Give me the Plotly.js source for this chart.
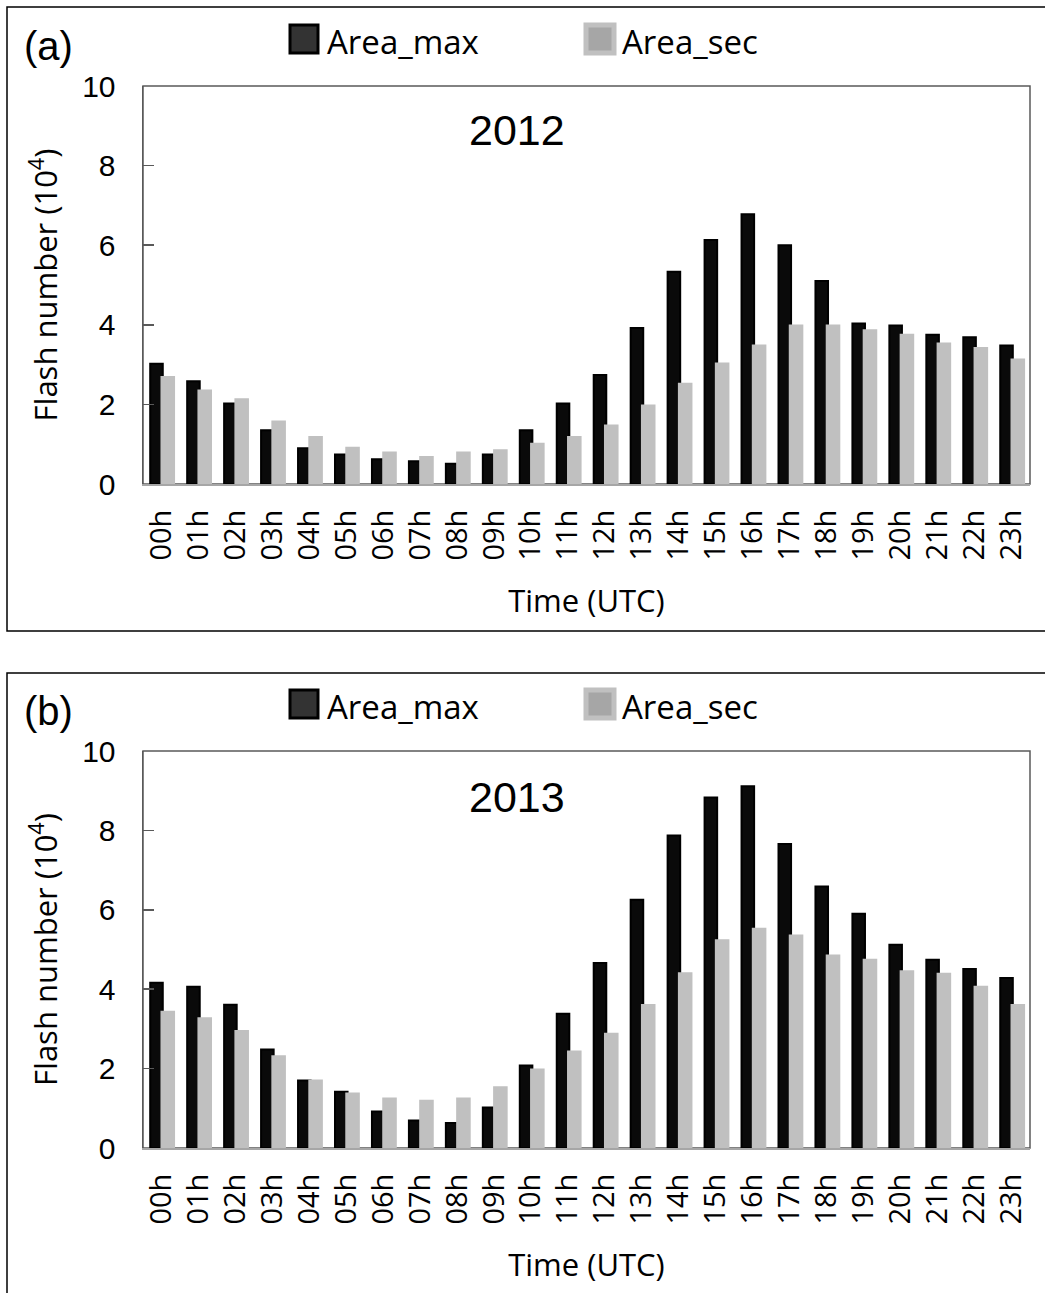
<!DOCTYPE html>
<html>
<head>
<meta charset="utf-8">
<script src="https://cdn.plot.ly/plotly-3.0.1.min.js"></script>
<style>html,body{margin:0;padding:0;background:#fff;}#chart{width:1045px;height:1293px;}</style>
</head>
<body>
<div id="chart"></div>
<script>
// ---- data ----
var hours = ['00h','01h','02h','03h','04h','05h','06h','07h','08h','09h','10h','11h',
             '12h','13h','14h','15h','16h','17h','18h','19h','20h','21h','22h','23h'];
var seriesNames = ['Area_max', 'Area_sec'];
var yearLabels = ['2012', '2013'];
var panelLabels = ['(a)', '(b)'];
var max2012 = [3.02,2.58,2.02,1.35,0.90,0.74,0.62,0.57,0.51,0.74,1.35,2.02,2.74,3.92,5.33,6.13,6.78,6.00,5.10,4.03,3.98,3.75,3.69,3.48];
var sec2012 = [2.69,2.35,2.13,1.57,1.18,0.91,0.79,0.68,0.79,0.85,1.01,1.18,1.47,1.97,2.52,3.03,3.48,3.98,3.98,3.86,3.75,3.53,3.42,3.13];
var max2013 = [4.16,4.06,3.61,2.48,1.70,1.42,0.92,0.69,0.63,1.02,2.08,3.38,4.66,6.25,7.87,8.83,9.11,7.66,6.59,5.90,5.12,4.74,4.51,4.28];
var sec2013 = [3.43,3.27,2.95,2.31,1.70,1.37,1.25,1.19,1.25,1.53,1.98,2.43,2.88,3.60,4.40,5.23,5.52,5.35,4.85,4.74,4.45,4.39,4.06,3.60];
var yTickVals = [0,2,4,6,8,10];

// ---- layout helpers ----
var W = 1045, H = 1293;
function px(x){ return x / W; }
function py(y){ return 1 - y / H; }

var BW = 0.34;
function barTrace(x, y, name, xa, ya, fill, line, off){
  return {type:'bar', x:x, y:y, name:name, xaxis:xa, yaxis:ya,
    width:BW, offset:off,
    marker:{color:fill, line:{color:line, width:2}},
    showlegend:false, hoverinfo:'x+y'};
}

var data = [
  barTrace(hours, max2012, seriesNames[0], 'x', 'y', '#0a0a0a', '#000000', -0.305),
  barTrace(hours, sec2012, seriesNames[1], 'x', 'y', '#c0c0c0', '#c0c0c0', 0.0),
  barTrace(hours, max2013, seriesNames[0], 'x2', 'y2', '#0a0a0a', '#000000', -0.305),
  barTrace(hours, sec2013, seriesNames[1], 'x2', 'y2', '#c0c0c0', '#c0c0c0', 0.0)
];

var tickFontX = {family:'Open Sans, sans-serif', size:29, color:'#000'};
var tickFontY = {family:'Liberation Sans, Arial, sans-serif', size:30, color:'#000'};
var titleFont = {family:'Open Sans, sans-serif', size:31, color:'#000'};

function xaxis(anchor){
  return {domain:[px(143), px(1030)], anchor:anchor, type:'category',
    showline:true, linecolor:'#a6a6a6', linewidth:2, ticks:'',
    tickangle:-90, tickfont:tickFontX, ticklabelstandoff:12,
    showgrid:false, zeroline:false, fixedrange:true,
    title:{text:'Time (UTC)', font:titleFont, standoff:31}};
}
function yaxis(dom, anchor){
  return {domain:dom, anchor:anchor, range:[0,10], tickvals:yTickVals,
    showline:true, linecolor:'#595959', linewidth:1.5,
    ticks:'inside', ticklen:11, tickcolor:'#595959', tickwidth:1.5,
    tickfont:tickFontY, ticklabelstandoff:20,
    showgrid:false, zeroline:false, fixedrange:true,
    title:{text:'Flash number (10<sup>4</sup>)', font:titleFont, standoff:15}};
}

var shapes = [];
var annotations = [];

// panel boxes
[[7,631],[673,1300]].forEach(function(b){
  shapes.push({type:'rect', xref:'paper', yref:'paper', x0:px(7), x1:px(1060), y0:py(b[1]), y1:py(b[0]),
    line:{color:'#000', width:1.5}, fillcolor:'rgba(0,0,0,0)', layer:'below'});
});
// plot frames (top/right)
['x','x2'].forEach(function(xa, i){
  var ya = i===0 ? 'y' : 'y2';
  shapes.push({type:'rect', xref:xa+' domain', yref:ya+' domain', x0:0, x1:1, y0:0, y1:1,
    line:{color:'#595959', width:1.5}, fillcolor:'rgba(0,0,0,0)', layer:'below'});
});

// legends, panel labels, year labels
var legendY = [39, 704];
var yearY = [130, 797];
[0,1].forEach(function(i){
  var cy = legendY[i];
  shapes.push({type:'rect', xref:'paper', yref:'paper', x0:px(290), x1:px(318), y0:py(cy+14), y1:py(cy-14),
    line:{color:'#000', width:3}, fillcolor:'#333333'});
  shapes.push({type:'rect', xref:'paper', yref:'paper', x0:px(586), x1:px(614), y0:py(cy+14), y1:py(cy-14),
    line:{color:'#c0c0c0', width:5}, fillcolor:'#a6a6a6'});
  annotations.push({xref:'paper', yref:'paper', x:px(325), y:py(cy+2), xanchor:'left', yanchor:'middle',
    text:seriesNames[0], showarrow:false, font:{family:'Open Sans, sans-serif', size:33, color:'#000'}});
  annotations.push({xref:'paper', yref:'paper', x:px(620), y:py(cy+2), xanchor:'left', yanchor:'middle',
    text:seriesNames[1], showarrow:false, font:{family:'Open Sans, sans-serif', size:33, color:'#000'}});
  annotations.push({xref:'paper', yref:'paper', x:px(22), y:py(cy+7), xanchor:'left', yanchor:'middle',
    text:panelLabels[i], showarrow:false, font:{family:'Liberation Sans, Arial, sans-serif', size:40, color:'#000'}});
  annotations.push({xref:'paper', yref:'paper', x:px(517), y:py(yearY[i]), xanchor:'center', yanchor:'middle',
    text:yearLabels[i], showarrow:false, font:{family:'Liberation Sans, Arial, sans-serif', size:43, color:'#000'}});
});

var layout = {
  width:W, height:H, margin:{l:0, r:0, t:0, b:0},
  paper_bgcolor:'#fff', plot_bgcolor:'#fff',
  barmode:'overlay', showlegend:false,
  xaxis: xaxis('y'),
  yaxis: yaxis([py(484), py(86)], 'x'),
  xaxis2: xaxis('y2'),
  yaxis2: yaxis([py(1148), py(751)], 'x2'),
  shapes: shapes, annotations: annotations
};

Plotly.newPlot('chart', data, layout, {displayModeBar:false, staticPlot:true});
</script>
</body>
</html>
